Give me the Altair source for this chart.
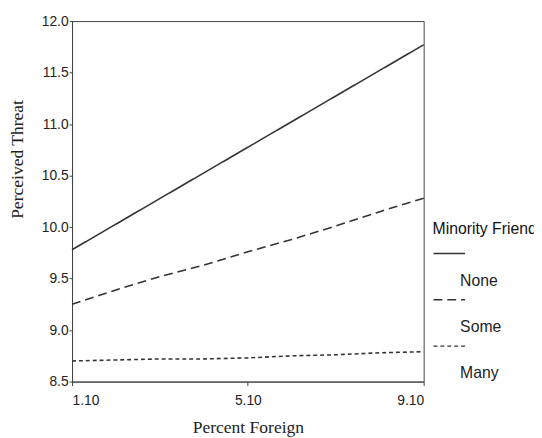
import altair as alt
import pandas as pd

groups = ["None", "Some", "Many"]
pct_none = [1.10, 9.10]
threat_none = [9.78, 11.77]
pct_grid = [1.10, 2.10, 3.10, 4.10, 5.10, 6.10, 7.10, 8.10, 9.10]
threat_some = [9.25, 9.39, 9.52, 9.63, 9.76, 9.88, 10.01, 10.15, 10.28]
threat_many = [8.70, 8.71, 8.72, 8.72, 8.73, 8.75, 8.76, 8.78, 8.79]
x_ticks = [1.10, 5.10, 9.10]
y_ticks = [8.5, 9.0, 9.5, 10.0, 10.5, 11.0, 11.5, 12.0]

rows = []
for p, t in zip(pct_none, threat_none):
    rows.append({"pct": p, "threat": t, "group": "None"})
for p, t in zip(pct_grid, threat_some):
    rows.append({"pct": p, "threat": t, "group": "Some"})
for p, t in zip(pct_grid, threat_many):
    rows.append({"pct": p, "threat": t, "group": "Many"})
df = pd.DataFrame(rows)
df["label"] = df["group"]

chart = alt.Chart(df).mark_line(strokeWidth=1.6).encode(
    x=alt.X("pct:Q",
            scale=alt.Scale(domain=[1.1, 9.1], nice=False, zero=False),
            axis=alt.Axis(values=x_ticks, format=".2f", title="Percent Foreign",
                          tickSize=4, labelPadding=8, titleY=47, titleBaseline="middle")),
    y=alt.Y("threat:Q",
            scale=alt.Scale(domain=[8.5, 12.0], nice=False, zero=False),
            axis=alt.Axis(values=y_ticks, format=".1f", title="Perceived Threat",
                          tickSize=3, labelPadding=1, titleX=-55, titleY=140,
                          titleBaseline="middle", titleAlign="center")),
    strokeDash=alt.StrokeDash("group:N",
                              scale=alt.Scale(domain=groups, range=[[1, 0], [9, 5], [4, 3]]),
                              legend=alt.Legend(title="Minority Friends", orient="none",
                                                legendX=366, legendY=203, padding=0,
                                                symbolType="stroke", symbolSize=1024,
                                                symbolStrokeWidth=1.5, symbolStrokeColor="#333333",
                                                labelExpr="''", labelOffset=0,
                                                rowPadding=22, titlePadding=0)),
    color=alt.Color("label:N", sort=groups,
                    scale=alt.Scale(range=["#333333", "#333333", "#333333"]),
                    legend=alt.Legend(title="", orient="none",
                                      legendX=378, legendY=256, padding=0,
                                      symbolType="circle", symbolSize=4,
                                      symbolOpacity=0, symbolStrokeWidth=0,
                                      labelOffset=0, rowPadding=30.5)),
).properties(
    width=357, height=366,
    autosize=alt.AutoSizeParams(type="none"),
    padding={"left": 65, "top": 10, "right": 112, "bottom": 54},
).configure_view(
    stroke="#444444", strokeWidth=1
).configure_axis(
    grid=False, domainColor="#444444", tickColor="#444444",
    labelFont="Liberation Sans", labelFontSize=14, labelColor="#222222",
    titleFont="Liberation Serif", titleFontSize=17.8, titleFontWeight="normal", titleColor="#222222",
).configure_legend(
    titleFont="Liberation Sans", titleFontSize=16, titleFontWeight="normal", titleColor="#111111",
    labelFont="Liberation Sans", labelFontSize=16, labelColor="#222222",
)

chart.save("out.html", embed_options={"renderer": "svg", "actions": False})
